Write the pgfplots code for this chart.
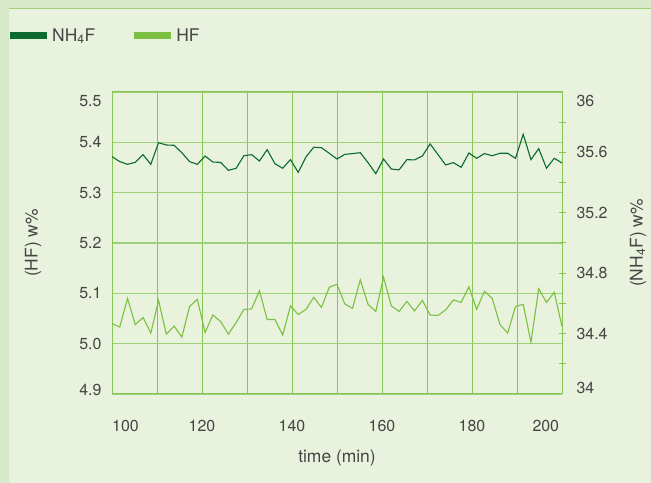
\documentclass[border=0pt]{standalone}
\usepackage{pgfplots}
\usepackage{pgfplotstable}
\pgfplotsset{compat=1.18}
\usepackage{fontspec}
\setmainfont{TeX Gyre Heros}
\usetikzlibrary{backgrounds}

\definecolor{bg}{HTML}{E8F2DC}
\definecolor{strip}{HTML}{D7E9C6}
\definecolor{topline}{HTML}{A3D07C}
\definecolor{gridc}{HTML}{86C454}
\definecolor{hgrid}{HTML}{9ED078}
\definecolor{nhf}{HTML}{0B6A2D}
\definecolor{hf}{HTML}{7CC043}
\definecolor{txt}{HTML}{454545}

% time (min), HF (w%), NH4F (w%)
\pgfplotstableread{
t      hf     nh
100.00 5.040  35.572
101.72 5.033  35.539
103.45 5.090  35.521
105.17 5.038  35.534
106.90 5.052  35.585
108.62 5.021  35.521
110.34 5.086  35.664
112.07 5.019  35.649
113.79 5.035  35.647
115.52 5.013  35.598
117.24 5.074  35.539
118.97 5.088  35.521
120.69 5.022  35.576
122.41 5.057  35.536
124.14 5.044  35.534
125.86 5.019  35.481
127.59 5.042  35.495
129.31 5.068  35.578
131.03 5.069  35.585
132.76 5.105  35.543
134.48 5.048  35.618
136.21 5.048  35.525
137.93 5.017  35.495
139.66 5.075  35.552
141.38 5.058  35.468
143.10 5.068  35.570
144.83 5.092  35.634
146.55 5.072  35.631
148.28 5.112  35.594
150.00 5.118  35.556
151.72 5.079  35.587
153.45 5.070  35.592
155.17 5.127  35.598
156.90 5.078  35.532
158.62 5.064  35.459
160.34 5.132  35.556
162.07 5.075  35.490
163.79 5.064  35.484
165.52 5.084  35.552
167.24 5.065  35.550
168.97 5.086  35.576
170.69 5.057  35.656
172.41 5.056  35.587
174.14 5.067  35.517
175.86 5.087  35.532
177.59 5.082  35.501
179.31 5.113  35.596
181.03 5.068  35.561
182.76 5.104  35.592
184.48 5.090  35.578
186.21 5.038  35.594
187.93 5.021  35.594
189.66 5.074  35.561
191.38 5.078  35.720
193.10 5.003  35.552
194.83 5.109  35.625
196.55 5.082  35.495
198.28 5.102  35.561
200.00 5.034  35.530
}\datatable

\pgfplotsset{
  base/.style={
    scale only axis, width=450bp, height=302bp,
    xmin=100, xmax=200,
    font=\fontsize{16}{19}\selectfont,
    /pgf/number format/assume math mode=true,
    tick label style={text=txt},
    axis line style={gridc, line width=1bp},
    major tick length=0pt,
  },
}

\begin{document}
\begin{tikzpicture}
\begin{axis}[base, name=main,
  ymin=4.9, ymax=5.5,
  xtick={103,120,140,160,180,196.4},
  xticklabels={100,120,140,160,180,200},
  ytick={4.908,5.0,5.1,5.2,5.3,5.4,5.482},
  yticklabels={4.9,5.0,5.1,5.2,5.3,5.4,5.5},
  minor xtick={100,110,120,130,140,150,160,170,180,190,200},
  minor ytick={4.9,5.0,5.1,5.2,5.3,5.4,5.5},
  minor tick length=0pt,
  xminorgrids, yminorgrids,
  x grid style={gridc, line width=1bp},
  y grid style={hgrid, line width=1.6bp},
  xticklabel style={yshift=-23bp},
  yticklabel style={xshift=-7bp},
  xlabel={time (min)}, ylabel={(HF) w\%},
  every axis x label/.style={at={([yshift=-64bp]axis description cs:0.5,0)}, anchor=center, text=txt, font=\fontsize{17.5}{20}\selectfont},
  every axis y label/.style={at={([xshift=-79bp]axis description cs:0,0.5)}, anchor=center, rotate=90, text=txt, font=\fontsize{17.5}{20}\selectfont},
]
\addplot[hf, line width=1.1bp] table[x=t, y=hf] {\datatable};
\end{axis}

\begin{axis}[base,
  ymin=34, ymax=36,
  axis y line*=right, axis x line=none,
  ytick={34.04,34.4,34.8,35.2,35.6,35.94},
  yticklabels={34,34.4,34.8,35.2,35.6,36},
  minor ytick={34.2,34.4,34.6,34.8,35,35.2,35.4,35.6,35.8},
  minor tick length=7bp, tick align=center,
  minor tick style={gridc, line width=1bp},
  yticklabel style={xshift=11bp},
  ylabel={(NH\textsubscript{4}F) w\%},
  every axis y label/.style={at={([xshift=76bp]axis description cs:1,0.5)}, anchor=center, rotate=90, text=txt, font=\fontsize{17.5}{20}\selectfont},
  legend image code/.code={\draw[#1, line width=7bp] (0bp,0bp) -- (37bp,0bp);},
  legend style={at={(0,1)}, anchor=west, xshift=-106bp, yshift=56.5bp,
    draw=none, fill=none, inner sep=0pt, legend columns=2,
    font=\fontsize{17.5}{20}\selectfont,
    nodes={text=txt},
    /tikz/every even column/.append style={column sep=33bp}},
  legend cell align=left,
]
\addplot[nhf, line width=1.1bp] table[x=t, y=nh] {\datatable};
\addlegendentry{NH\textsubscript{4}F}
\addlegendimage{hf, line width=1.1bp}
\addlegendentry{HF}
\end{axis}

\coordinate (O) at ([shift={(-112bp,-89bp)}]main.south west);
\begin{scope}[on background layer, shift={(O)}, x=1bp, y=1bp]
  \fill[bg] (0,0) rectangle (651,483);
  \fill[strip] (0,0) rectangle (9,483);
  \fill[strip] (0,475) rectangle (651,483);
  \draw[topline, line width=1.3bp] (9,474.3) -- (651,474.3);
\end{scope}
\pgfresetboundingbox
\path[use as bounding box, shift={(O)}, x=1bp, y=1bp] (0,0) rectangle (651,483);
\end{tikzpicture}
\end{document}
